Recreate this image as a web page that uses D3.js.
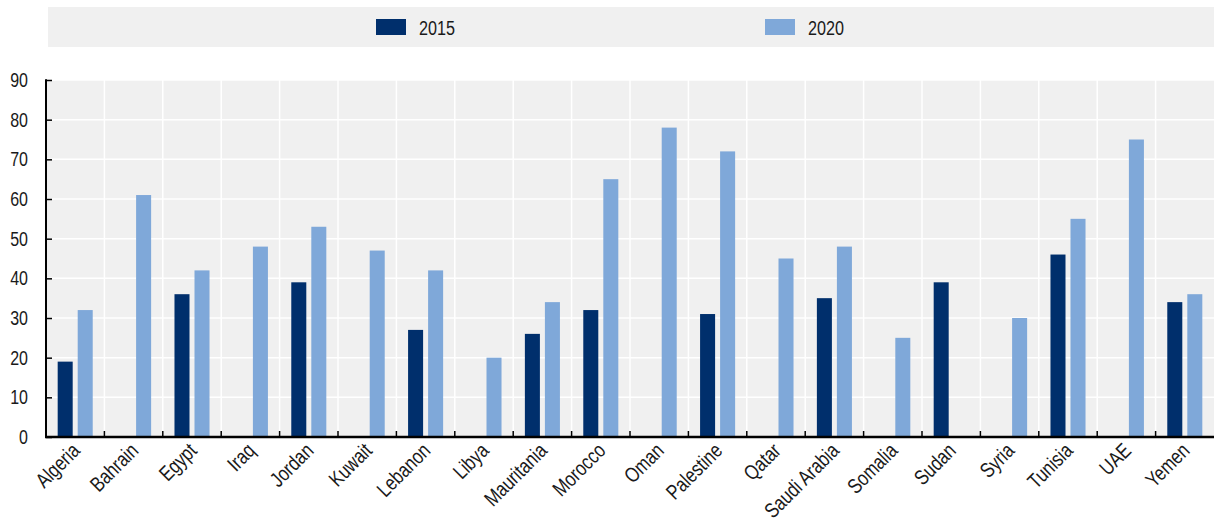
<!DOCTYPE html>
<html><head><meta charset="utf-8">
<script src="https://cdn.jsdelivr.net/npm/d3@7"></script>
<style>body{margin:0;background:#fff;} svg text{font-family:"Liberation Sans",Arial,sans-serif;}</style>
</head><body><svg id="c" width="1214" height="519"></svg>
<script>
const categories = ["Algeria","Bahrain","Egypt","Iraq","Jordan","Kuwait","Lebanon","Libya","Mauritania","Morocco","Oman","Palestine","Qatar","Saudi Arabia","Somalia","Sudan","Syria","Tunisia","UAE","Yemen"];
const series2015 = [19,null,36,null,39,null,27,null,26,32,null,31,null,35,null,39,null,46,null,34];
const series2020 = [32,61,42,48,53,47,42,20,34,65,78,72,45,48,25,null,30,55,75,36];
const seriesNames = ["2015","2020"];
const yTicks = [0,10,20,30,40,50,60,70,80,90];
const colors = ["#002f6c","#7fa8d9"];

const svg = d3.select("#c");
const m = {l:46, r:1214, t:80, b:437};
const x = d3.scaleBand().domain(categories).range([m.l, m.r]);
const y = d3.scaleLinear().domain([0,90]).range([m.b, m.t]);
const bw = x.bandwidth();
const inner = d3.scaleBand().domain(seriesNames).range([bw*0.2, bw*0.8]).paddingInner(0.25);

// legend
svg.append("rect").attr("x",48).attr("y",7).attr("width",1166).attr("height",40).attr("fill","#f0f0f0");
const legX = [376, 765];
seriesNames.forEach((s,i)=>{
  svg.append("rect").attr("x",legX[i]).attr("y",19).attr("width",30).attr("height",16).attr("fill",colors[i]);
  svg.append("text").attr("transform",`translate(${legX[i]+43},34.5) scale(0.77,1)`).attr("font-size",21).attr("fill","#1a1a1a").text(s);
});

// plot bg
svg.append("rect").attr("x",m.l).attr("y",m.t).attr("width",m.r-m.l).attr("height",m.b-m.t).attr("fill","#f0f0f0");
// grid
svg.append("g").selectAll("line").data(yTicks.slice(1)).join("line")
  .attr("x1",m.l).attr("x2",m.r).attr("y1",d=>y(d)).attr("y2",d=>y(d)).attr("stroke","#fff").attr("stroke-width",1.5);
svg.append("g").selectAll("line").data(categories.slice(1)).join("line")
  .attr("x1",d=>x(d)).attr("x2",d=>x(d)).attr("y1",m.t).attr("y2",m.b).attr("stroke","#fff").attr("stroke-width",1.5);

// bars
const data = [series2015, series2020];
data.forEach((arr,si)=>{
  svg.append("g").selectAll("rect").data(categories.map((c,i)=>({c,v:arr[i]})).filter(d=>d.v!=null)).join("rect")
    .attr("x",d=>x(d.c)+inner(seriesNames[si])).attr("width",inner.bandwidth())
    .attr("y",d=>y(d.v)).attr("height",d=>y(0)-y(d.v)).attr("fill",colors[si]);
});

// y axis
const ya = svg.append("g").attr("transform",`translate(${m.l},0)`)
  .call(d3.axisRight(y).tickValues(yTicks).tickSize(6).tickFormat(""));
ya.select(".domain").remove();
ya.selectAll("line").attr("stroke","#000").attr("stroke-width",1.5);
svg.append("line").attr("x1",m.l).attr("x2",m.l).attr("y1",m.t-0.75).attr("y2",m.b).attr("stroke","#000").attr("stroke-width",2);
svg.append("g").selectAll("text").data(yTicks).join("text")
  .attr("transform",d=>`translate(28,${y(d)+7}) scale(0.8,1)`).attr("text-anchor","end").attr("font-size",20).attr("fill","#1a1a1a").text(d=>d);

// x axis
svg.append("g").selectAll("line").data(categories.slice(1)).join("line")
  .attr("x1",d=>x(d)).attr("x2",d=>x(d)).attr("y1",m.b).attr("y2",m.b-6).attr("stroke","#000").attr("stroke-width",1.5);
svg.append("line").attr("x1",m.l-1).attr("x2",m.r).attr("y1",m.b).attr("y2",m.b).attr("stroke","#000").attr("stroke-width",2.5);
svg.append("g").selectAll("text").data(categories).join("text")
  .attr("transform",d=>`translate(${x(d)+bw/2+6},${m.b+15}) rotate(-45) scale(0.8,1)`)
  .attr("text-anchor","end").attr("font-size",21).attr("fill","#1a1a1a").text(d=>d);
</script></body></html>
